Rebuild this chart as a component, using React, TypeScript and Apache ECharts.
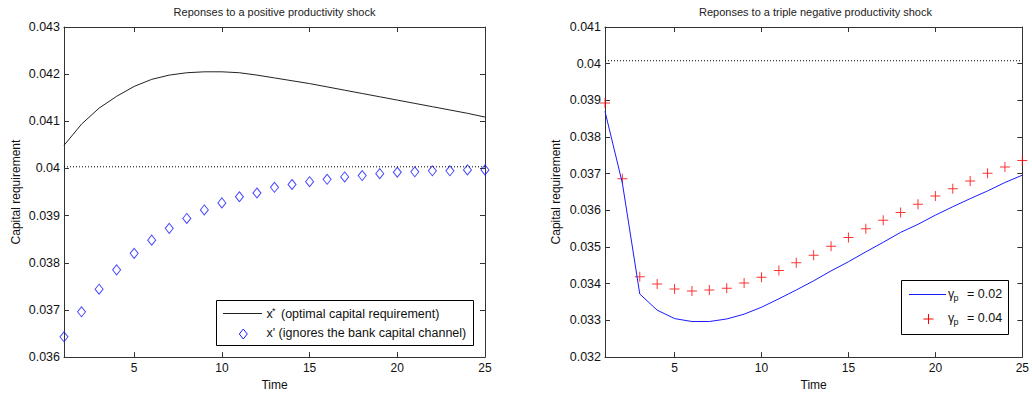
import React, { useEffect, useRef } from "react";
import * as echarts from "echarts";

const times = [1, 2, 3, 4, 5, 6, 7, 8, 9, 10, 11, 12, 13, 14, 15, 16, 17, 18, 19, 20, 21, 22, 23, 24, 25];
const xTickValues = [5, 10, 15, 20, 25];

// Left panel: positive productivity shock
const xStar = [0.04049, 0.04094, 0.04128, 0.04153, 0.04174, 0.04189, 0.04198, 0.04203, 0.04205, 0.04205,
  0.04203, 0.04198, 0.04192, 0.04186, 0.0418, 0.04173, 0.04166, 0.04159, 0.04152, 0.04145,
  0.04138, 0.04131, 0.04124, 0.04117, 0.04109];
const xPrime = [0.03643, 0.03696, 0.03744, 0.03785, 0.0382, 0.03848, 0.03873, 0.03894, 0.03912, 0.03927,
  0.0394, 0.03948, 0.0396, 0.03966, 0.03972, 0.03977, 0.03982, 0.03985, 0.03989, 0.03992,
  0.03993, 0.03995, 0.03995, 0.03997, 0.03997];
const steadyLeft = 0.040035;

// Right panel: triple negative productivity shock
const gamma002 = [0.0387, 0.03674, 0.03372, 0.03328, 0.03305, 0.03297, 0.03297, 0.03304, 0.03317, 0.03336,
  0.03359, 0.03383, 0.03408, 0.03435, 0.0346, 0.03487, 0.03513, 0.0354, 0.03562, 0.03587,
  0.0361, 0.03632, 0.03653, 0.03676, 0.03696];
const gamma004 = [0.03893, 0.03686, 0.03419, 0.03399, 0.03386, 0.0338, 0.03383, 0.03388, 0.03402, 0.03418,
  0.03436, 0.03457, 0.03478, 0.03502, 0.03526, 0.0355, 0.03573, 0.03594, 0.03617, 0.03639,
  0.03659, 0.0368, 0.03701, 0.03718, 0.03736];
const steadyRight = 0.04008;

const FONT = "'Liberation Sans', Arial, Helvetica, sans-serif";
const AXIS_COLOR = "#333";
const TEXT_COLOR = "#111";

const pairs = (vals: number[]) => times.map((t, i) => [t, vals[i]]);
const flat = (v: number) => [[times[0], v], [times[times.length - 1], v]];

const fmt = (v: number) => String(parseFloat(v.toFixed(3)));

function xAxes(gridIndex: number) {
  const base = {
    type: "value",
    gridIndex,
    min: 1,
    max: 25,
    splitLine: { show: false },
    axisLine: { show: true, lineStyle: { color: AXIS_COLOR, width: 1 } },
    axisTick: { show: true, inside: true, length: 5, customValues: xTickValues, lineStyle: { color: AXIS_COLOR } },
  };
  return [
    {
      ...base,
      position: "bottom",
      name: "Time",
      nameLocation: "middle",
      nameGap: 20,
      nameTextStyle: { fontFamily: FONT, fontSize: 12, color: TEXT_COLOR },
      axisLabel: { show: true, customValues: xTickValues, margin: 5, fontFamily: FONT, fontSize: 12, color: TEXT_COLOR },
    },
    { ...base, position: "top", axisLabel: { show: false } },
  ];
}

function yAxes(gridIndex: number, min: number, max: number, nameGap: number) {
  const base = {
    type: "value",
    gridIndex,
    min,
    max,
    interval: 0.001,
    splitLine: { show: false },
    axisLine: { show: true, lineStyle: { color: AXIS_COLOR, width: 1 } },
    axisTick: { show: true, inside: true, length: 5, lineStyle: { color: AXIS_COLOR } },
  };
  return [
    {
      ...base,
      position: "left",
      name: "Capital requirement",
      nameLocation: "middle",
      nameGap,
      nameTextStyle: { fontFamily: FONT, fontSize: 12, color: TEXT_COLOR },
      axisLabel: { show: true, margin: 4, fontFamily: FONT, fontSize: 12.5, color: TEXT_COLOR, formatter: fmt },
    },
    { ...base, position: "right", axisLabel: { show: false } },
  ];
}

const txt = (x: number, y: number, text: string, size = 12.5, align = "left") => ({
  type: "text",
  x,
  y,
  style: { text, fontFamily: FONT, fontSize: size, fill: TEXT_COLOR, textAlign: align, textVerticalAlign: "middle" },
  z: 101,
});

export default function App() {
  const ref = useRef<HTMLDivElement>(null);
  useEffect(() => {
    if (!ref.current) return;
    const chart = echarts.init(ref.current, undefined, { renderer: "svg" });
    const plusPath = "path://M4.5,0H5.5V10H4.5Z M0,4.5H10V5.5H0Z";
    chart.setOption({
      animation: false,
      backgroundColor: "#fff",
      title: [
        {
          text: "Reponses to a positive productivity shock",
          left: 274.5,
          top: 6,
          padding: 0,
          textAlign: "center",
          textStyle: { fontFamily: FONT, fontSize: 11, fontWeight: "normal", color: "#222" },
        },
        {
          text: "Reponses to a triple negative productivity shock",
          left: 815.5,
          top: 6,
          padding: 0,
          textAlign: "center",
          textStyle: { fontFamily: FONT, fontSize: 11, fontWeight: "normal", color: "#222" },
        },
      ],
      grid: [
        { left: 64, top: 27, width: 421, height: 331, show: false },
        { left: 605, top: 27, width: 421, height: 331, show: false },
      ],
      xAxis: [...xAxes(0), ...xAxes(1)],
      yAxis: [...yAxes(0, 0.036, 0.043, 42), ...yAxes(1, 0.032, 0.041, 43)],
      series: [
        {
          name: "steady-left",
          type: "line",
          xAxisIndex: 0,
          yAxisIndex: 0,
          data: flat(steadyLeft),
          showSymbol: false,
          lineStyle: { color: "#000", width: 1, type: [1, 2] },
        },
        {
          name: "x* (optimal capital requirement)",
          type: "line",
          xAxisIndex: 0,
          yAxisIndex: 0,
          data: pairs(xStar),
          showSymbol: false,
          lineStyle: { color: "#222", width: 1 },
        },
        {
          name: "x' (ignores the bank capital channel)",
          type: "scatter",
          xAxisIndex: 0,
          yAxisIndex: 0,
          data: pairs(xPrime),
          symbol: "diamond",
          symbolSize: [8, 10],
          clip: false,
          itemStyle: { color: "rgba(0,0,0,0)", borderColor: "#1a1aff", borderWidth: 1 },
        },
        {
          name: "steady-right",
          type: "line",
          xAxisIndex: 2,
          yAxisIndex: 2,
          data: flat(steadyRight),
          showSymbol: false,
          lineStyle: { color: "#000", width: 1, type: [1, 2] },
        },
        {
          name: "gamma_p = 0.02",
          type: "line",
          xAxisIndex: 2,
          yAxisIndex: 2,
          data: pairs(gamma002),
          showSymbol: false,
          lineStyle: { color: "#1a1aff", width: 1 },
        },
        {
          name: "gamma_p = 0.04",
          type: "scatter",
          xAxisIndex: 2,
          yAxisIndex: 2,
          data: pairs(gamma004),
          symbol: plusPath,
          symbolSize: 10,
          clip: false,
          itemStyle: { color: "#ff0000" },
        },
      ],
      graphic: [
        // Left legend
        {
          type: "rect",
          shape: { x: 216.5, y: 300.5, width: 257, height: 45 },
          style: { fill: "#fff", stroke: "#000", lineWidth: 1 },
          z: 100,
        },
        {
          type: "line",
          shape: { x1: 223, y1: 313.5, x2: 262, y2: 313.5 },
          style: { stroke: "#222", lineWidth: 1 },
          z: 101,
        },
        txt(266.5, 314.4, "x"),
        txt(272, 311, "*", 9),
        txt(281, 314.4, "(optimal capital requirement)"),
        {
          type: "polygon",
          shape: { points: [[243.3, 329], [247.3, 334], [243.3, 339], [239.3, 334]] },
          style: { fill: "none", stroke: "#1a1aff", lineWidth: 1 },
          z: 101,
        },
        txt(266.5, 332.7, "x' (ignores the bank capital channel)"),
        // Right legend
        {
          type: "rect",
          shape: { x: 901.5, y: 280.5, width: 107, height: 54 },
          style: { fill: "#fff", stroke: "#000", lineWidth: 1 },
          z: 100,
        },
        {
          type: "line",
          shape: { x1: 909, y1: 294.5, x2: 946, y2: 294.5 },
          style: { stroke: "#1a1aff", lineWidth: 1 },
          z: 101,
        },
        txt(948, 293.7, "\u03b3"),
        txt(953.5, 298, "p", 9),
        txt(967, 293.7, "= 0.02"),
        {
          type: "line",
          shape: { x1: 928.5, y1: 314, x2: 928.5, y2: 324 },
          style: { stroke: "#ff0000", lineWidth: 1 },
          z: 101,
        },
        {
          type: "line",
          shape: { x1: 923.5, y1: 319, x2: 933.5, y2: 319 },
          style: { stroke: "#ff0000", lineWidth: 1 },
          z: 101,
        },
        txt(948, 318, "\u03b3"),
        txt(953.5, 322.3, "p", 9),
        txt(967, 318, "= 0.04"),
      ],
    });
    return () => chart.dispose();
  }, []);
  return (
    <div
      ref={ref}
      style={{ position: "absolute", left: 0, top: 0, width: 1032, height: 396, background: "#fff" }}
    />
  );
}
